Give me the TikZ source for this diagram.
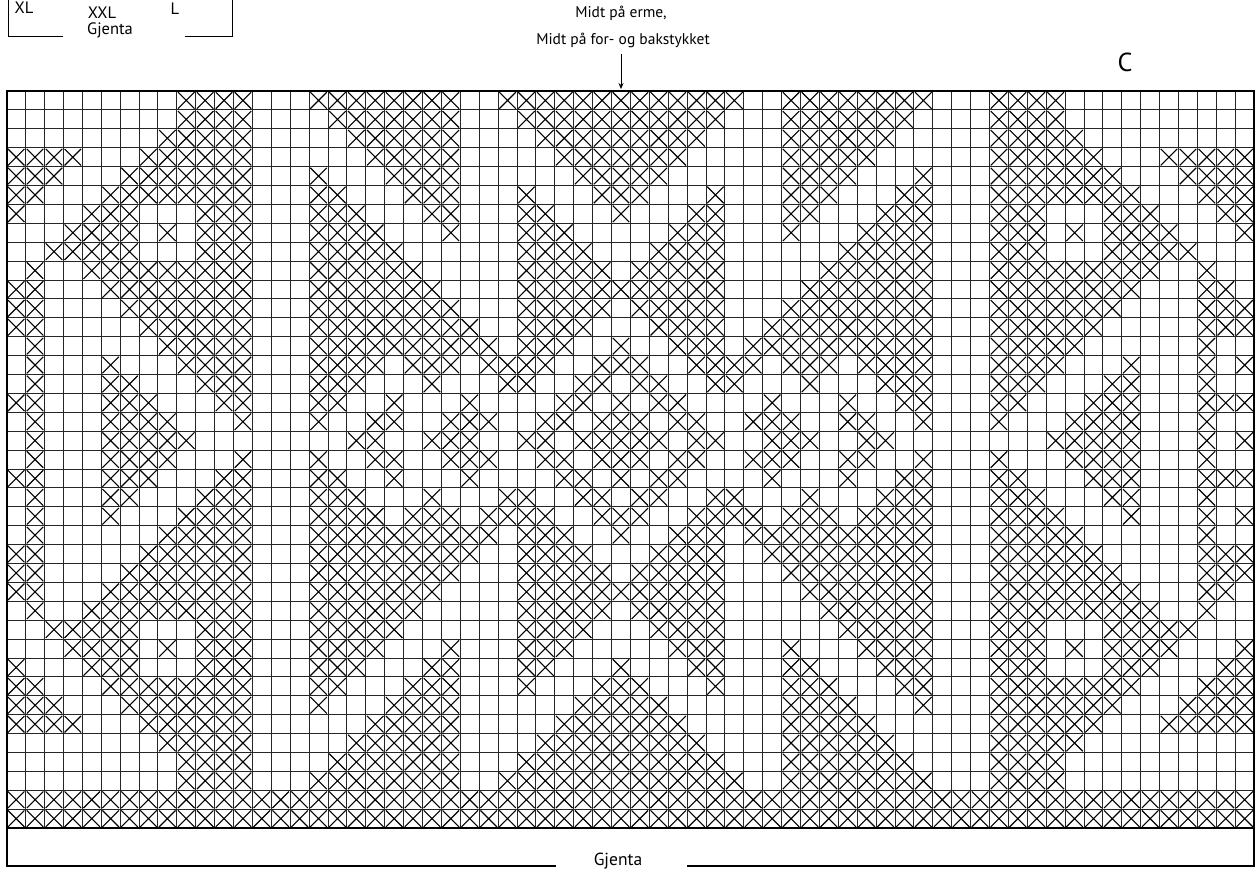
\documentclass[tikz,border=0pt]{standalone}
\usepackage{fontspec}
\setmainfont{PT Sans}
\usetikzlibrary{arrows.meta}
\def\gxo{6.7}\def\gyo{91}\def\csz{18.9}\def\xin{1.2}
\newcommand\xcell[2]{\draw[xmk] ({\gxo+(#2)*\csz+\xin},{\gyo+(#1)*\csz+\xin}) -- ++({\csz-2*\xin},{\csz-2*\xin}) ({\gxo+(#2)*\csz+\csz-\xin},{\gyo+(#1)*\csz+\xin}) -- ++({2*\xin-\csz},{\csz-2*\xin});}
\newcommand\qrng[3]{\foreach \cc in {#2,...,#3}{%
  \xcell{#1}{\cc}\ifnum\cc<32 \xcell{#1}{64-\cc}\fi
  \ifnum#1<18 \xcell{36-#1}{\cc}\ifnum\cc<32 \xcell{36-#1}{64-\cc}\fi\fi}}
\newcommand\rowx[2]{\foreach \aa/\bb in {#2}{\qrng{#1}{\aa}{\bb}}}
\begin{document}
\begin{tikzpicture}[x=1pt,y=-1pt,
  gridl/.style={line width=0.85pt, black!85},
  xmk/.style={line width=1.1pt, black},
  bord/.style={line width=2.4pt, black, line cap=rect},
  thinl/.style={line width=0.9pt, black},
  lbl/.style={inner sep=0pt, font=\fontsize{15.5}{17}\selectfont},
  slbl/.style={inner sep=0pt, anchor=base, font=\fontsize{16.5}{18}\selectfont},
]
\useasboundingbox (0,0) rectangle (1258,868);
% grid
\foreach \i in {0,...,66}{\draw[gridl] ({\gxo+\i*\csz},\gyo) -- ({\gxo+\i*\csz},{\gyo+39*\csz});}
\foreach \j in {0,...,39}{\draw[gridl] (\gxo,{\gyo+\j*\csz}) -- ({\gxo+66*\csz},{\gyo+\j*\csz});}
% pattern (symmetric quarter, mirrored about column 32 and row 18)
\rowx{0}{9/12,16/23,26/32}
\rowx{1}{9/12,17/23,27/32}
\rowx{2}{8/12,18/23,28/32}
\rowx{3}{0/3,7/12,19/23,29/32}
\rowx{4}{0/2,6/12,16/16,20/23,30/32}
\rowx{5}{0/1,5/12,16/17,21/23,27/27,31/32}
\rowx{6}{0/0,4/6,10/12,16/18,22/23,27/28,32/32}
\rowx{7}{3/6,8/8,10/12,16/19,23/23,27/29}
\rowx{8}{2/6,10/12,16/20,27/30}
\rowx{9}{1/1,4/12,16/21,27/31}
\rowx{10}{0/1,5/12,16/22,27/32}
\rowx{11}{0/1,6/12,16/23,27/31}
\rowx{12}{0/1,7/12,16/24,27/30}
\rowx{13}{1/1,8/12,16/25,27/29,32/32}
\rowx{14}{1/1,5/5,9/12,16/19,21/23,25/28,31/32}
\rowx{15}{1/1,5/6,10/12,16/18,22/22,26/27,30/31}
\rowx{16}{0/1,5/7,11/12,16/17,20/20,24/24,29/30,32/32}
\rowx{17}{1/1,5/8,12/12,16/16,19/20,23/25,28/29,31/32}
\rowx{18}{1/1,5/9,18/19,22/24,27/28,30/32}
\foreach \rr in {3,4,5,6,7,11,12,14,16}{\xcell{\rr}{65}\xcell{36-\rr}{65}}
\xcell{18}{65}
\foreach \cc in {0,...,65}{\xcell{37}{\cc}\xcell{38}{\cc}}
% borders
\draw[bord] (\gxo,{\gyo+39*\csz}) -- (\gxo,\gyo) -- ({\gxo+66*\csz},\gyo) -- ({\gxo+66*\csz},{\gyo+39*\csz});
\draw[line width=2pt] (\gxo,{\gyo+39*\csz}) -- ({\gxo+66*\csz},{\gyo+39*\csz});
\draw[bord] (\gxo,828) -- (\gxo,866) -- (555,866);
\draw[bord] (688,866) -- ({\gxo+66*\csz},866) -- ({\gxo+66*\csz},828);
% labels
\node[lbl] (m1) at (621,13) {Midt på erme,};
\node[lbl] (m2) at (623,40) {Midt på for- og bakstykket};
\coordinate (as) at (621,54);
\coordinate (ae) at (621,89);
\draw[line width=0.9pt, -{Stealth[length=6pt,width=5pt]}] (as) -- (ae);
\node[inner sep=0pt, font=\fontsize{26}{28}\selectfont] (cc) at (1125,62) {C};
\node[slbl] (xl) at (24,13) {XL};
\node[slbl] (xxl) at (102,18) {XXL};
\node[slbl] (ll) at (175,14) {L};
\node[slbl] (gj1) at (110,34) {Gjenta};
\draw[thinl] (8,0) -- (8,36) -- (63,36);
\draw[thinl] (185,36) -- (232,36) -- (232,0);
\node[inner sep=0pt, anchor=base, font=\fontsize{17.5}{19}\selectfont] (gj2) at (618,865) {Gjenta};
\end{tikzpicture}
\end{document}
